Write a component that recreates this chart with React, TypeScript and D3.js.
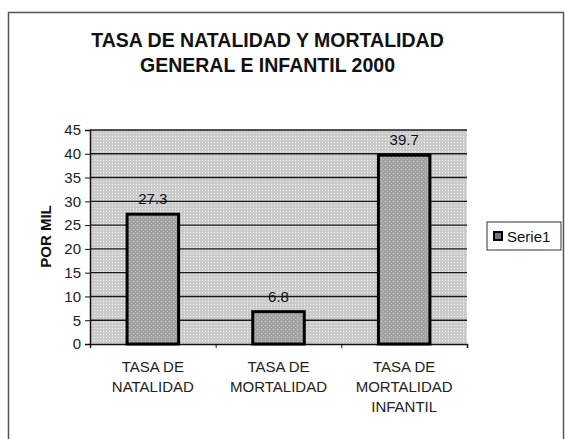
import { useEffect, useRef } from "react";
import * as d3 from "d3";

const categories = [
  ["TASA DE", "NATALIDAD"],
  ["TASA DE", "MORTALIDAD"],
  ["TASA DE", "MORTALIDAD", "INFANTIL"],
];
const values = [27.3, 6.8, 39.7];
const yTicks = [0, 5, 10, 15, 20, 25, 30, 35, 40, 45];
const titleLines = ["TASA DE NATALIDAD Y MORTALIDAD", "GENERAL E INFANTIL 2000"];
const seriesName = "Serie1";

const W = 565;
const H = 439;
const FONT = "'Liberation Sans', Arial, sans-serif";

export default function App() {
  const svgRef = useRef<SVGSVGElement>(null);

  useEffect(() => {
    if (!svgRef.current) return;
    const svg = d3.select(svgRef.current);
    svg.selectAll("*").remove();

    const plot = { left: 90, right: 467, top: 130, bottom: 344 };

    const defs = svg.append("defs");
    const bg = defs
      .append("pattern")
      .attr("id", "bgdots")
      .attr("width", 3)
      .attr("height", 3)
      .attr("patternUnits", "userSpaceOnUse");
    bg.append("rect").attr("width", 3).attr("height", 3).attr("fill", "#cbcbcb");
    bg.append("rect").attr("x", 1).attr("y", 1).attr("width", 1).attr("height", 1).attr("fill", "#f0f0f0");

    const barPat = defs
      .append("pattern")
      .attr("id", "bardots")
      .attr("width", 4)
      .attr("height", 4)
      .attr("patternUnits", "userSpaceOnUse");
    barPat.append("rect").attr("width", 4).attr("height", 4).attr("fill", "#a3a3a3");
    barPat.append("rect").attr("x", 1).attr("y", 1).attr("width", 1).attr("height", 1).attr("fill", "#cacaca");
    barPat.append("rect").attr("x", 3).attr("y", 3).attr("width", 1).attr("height", 1).attr("fill", "#b8b8b8");

    // outer frame
    svg
      .append("rect")
      .attr("x", 8.5)
      .attr("y", 12.5)
      .attr("width", 555)
      .attr("height", 440)
      .attr("fill", "white")
      .attr("stroke", "#555")
      .attr("stroke-width", 1.5);

    // title
    svg
      .append("g")
      .selectAll("text")
      .data(titleLines)
      .enter()
      .append("text")
      .attr("x", 267.5)
      .attr("y", (_, i) => 47 + i * 25)
      .attr("text-anchor", "middle")
      .attr("font-family", FONT)
      .attr("font-weight", "bold")
      .attr("font-size", 19.5)
      .attr("fill", "#111")
      .text(d => d);

    const x = d3
      .scaleBand<number>()
      .domain(d3.range(values.length))
      .range([plot.left, plot.right])
      .paddingInner(0.59)
      .paddingOuter(0.295);
    const xOuter = d3
      .scaleBand<number>()
      .domain(d3.range(values.length))
      .range([plot.left, plot.right]);
    const y = d3.scaleLinear().domain([0, 45]).range([plot.bottom, plot.top]);

    svg
      .append("rect")
      .attr("x", plot.left)
      .attr("y", plot.top)
      .attr("width", plot.right - plot.left)
      .attr("height", plot.bottom - plot.top)
      .attr("fill", "url(#bgdots)");

    svg
      .append("g")
      .selectAll("line")
      .data(yTicks.filter(t => t > 0))
      .enter()
      .append("line")
      .attr("x1", plot.left)
      .attr("x2", plot.right)
      .attr("y1", d => y(d))
      .attr("y2", d => y(d))
      .attr("stroke", "#1a1a1a")
      .attr("stroke-width", 1.4);

    // y axis
    const yAxis = svg
      .append("g")
      .attr("transform", `translate(${plot.left},0)`)
      .call(d3.axisLeft(y).tickValues(yTicks).tickSize(5).tickPadding(4));
    yAxis.select(".domain").attr("stroke", "#111").attr("stroke-width", 1.5);
    yAxis.selectAll(".tick line").attr("stroke", "#111");
    yAxis
      .selectAll(".tick text")
      .attr("font-family", FONT)
      .attr("font-size", 15)
      .attr("fill", "#222");

    // x axis
    const xAxis = svg
      .append("g")
      .attr("transform", `translate(0,${plot.bottom})`)
      .call(
        d3
          .axisBottom(
            d3.scaleLinear().domain([0, values.length]).range([plot.left, plot.right])
          )
          .tickValues(d3.range(values.length + 1))
          .tickSize(4)
          .tickFormat(() => "")
      );
    xAxis.select(".domain").attr("stroke", "#111").attr("stroke-width", 1.5);
    xAxis.selectAll(".tick line").attr("stroke", "#111");

    // bars
    svg
      .append("g")
      .selectAll("rect")
      .data(values)
      .enter()
      .append("rect")
      .attr("x", (_, i) => x(i)!)
      .attr("y", d => y(d))
      .attr("width", x.bandwidth())
      .attr("height", d => plot.bottom - y(d))
      .attr("fill", "url(#bardots)")
      .attr("stroke", "#000")
      .attr("stroke-width", 3);

    // value labels
    svg
      .append("g")
      .selectAll("text")
      .data(values)
      .enter()
      .append("text")
      .attr("x", (_, i) => x(i)! + x.bandwidth() / 2)
      .attr("y", d => y(d) - 10)
      .attr("text-anchor", "middle")
      .attr("font-family", FONT)
      .attr("font-size", 15)
      .attr("fill", "#111")
      .text(d => d.toFixed(1));

    // category labels
    const cat = svg
      .append("g")
      .selectAll("text")
      .data(categories)
      .enter()
      .append("text")
      .attr("text-anchor", "middle")
      .attr("font-family", FONT)
      .attr("font-size", 15)
      .attr("fill", "#222");
    cat
      .selectAll("tspan")
      .data((d, i) => d.map(line => ({ line, i })))
      .enter()
      .append("tspan")
      .attr("x", d => xOuter(d.i)! + xOuter.bandwidth() / 2)
      .attr("y", (_, j) => 372 + j * 20)
      .text(d => d.line);

    // y axis title
    svg
      .append("text")
      .attr("transform", `translate(51,236.5) rotate(-90)`)
      .attr("text-anchor", "middle")
      .attr("font-family", FONT)
      .attr("font-weight", "bold")
      .attr("font-size", 15)
      .attr("fill", "#111")
      .text("POR MIL");

    // legend
    const lg = svg.append("g").attr("transform", "translate(487,222)");
    lg.append("rect")
      .attr("width", 74)
      .attr("height", 28)
      .attr("fill", "white")
      .attr("stroke", "#333")
      .attr("stroke-width", 1);
    lg.append("rect")
      .attr("x", 7)
      .attr("y", 10)
      .attr("width", 8)
      .attr("height", 8)
      .attr("fill", "#777")
      .attr("stroke", "#000")
      .attr("stroke-width", 2);
    lg.append("text")
      .attr("x", 20)
      .attr("y", 19.5)
      .attr("font-family", FONT)
      .attr("font-size", 15)
      .attr("fill", "#111")
      .text(seriesName);
  }, []);

  return (
    <svg
      ref={svgRef}
      width={W}
      height={H}
      style={{ position: "absolute", left: 0, top: 0, background: "white" }}
    />
  );
}
